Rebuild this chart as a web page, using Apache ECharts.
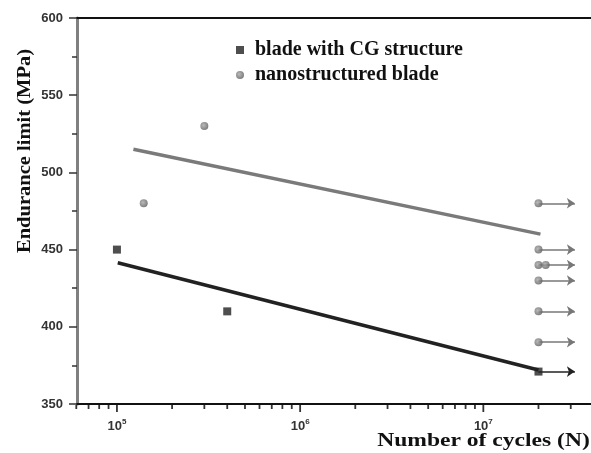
<!DOCTYPE html>
<html><head><meta charset="utf-8">
<script src="https://cdn.jsdelivr.net/npm/echarts@6/dist/echarts.min.js"></script>
<style>html,body{margin:0;padding:0;background:#fff}#c{width:591px;height:453px}</style>
</head><body><div id="c"></div>
<script>
// ---- data ----
const cgX = [1e5, 4e5, 2e7];
const cgY = [450, 410, 371];
const nanoX = [1.4e5, 3e5, 2e7, 2e7, 2e7, 2.19e7, 2e7, 2e7, 2e7];
const nanoY = [480, 530, 480, 450, 440, 440, 430, 410, 390];
const cgFitX = [1.01e5, 2e7];
const cgFitY = [441.5, 372];
const nanoFitX = [1.23e5, 2.05e7];
const nanoFitY = [515, 460];
const runoutStartX = 2e7;
const runoutEndX = 3.16e7;
const nanoRunoutY = [480, 450, 440, 430, 410, 390];
const cgRunoutY = [371];
const xMajorTicks = [1e5, 1e6, 1e7];
const xMajorLabels = ['5', '6', '7'];
const xMinorTicks = [6e4, 7e4, 8e4, 9e4, 2e5, 3e5, 4e5, 5e5, 6e5, 7e5, 8e5, 9e5,
  2e6, 3e6, 4e6, 5e6, 6e6, 7e6, 8e6, 9e6, 2e7, 3e7];
const yTicks = [350, 400, 450, 500, 550, 600];

const chart = echarts.init(document.getElementById('c'));
const serif = "'Liberation Serif', 'Times New Roman', serif";
const sans = "'Liberation Sans', Arial, sans-serif";
const sphere = {type: 'radial', x: 0.4, y: 0.4, r: 0.6,
  colorStops: [{offset: 0, color: '#a8a8a8'}, {offset: 1, color: '#5f5f5f'}]};

const tickData = xMajorTicks.map((v, i) => [v, 350, 1, xMajorLabels[i]])
  .concat(xMinorTicks.map(v => [v, 350, 0, '']));

chart.setOption({
  animation: false,
  grid: {left: 77, top: 18, right: 0, bottom: 49, containLabel: false},
  legend: {
    left: 236, top: 40, padding: 0, orient: 'vertical', itemGap: 5,
    itemWidth: 8, itemHeight: 8,
    textStyle: {fontFamily: serif, fontWeight: 'bold', fontSize: 20, color: '#111', padding: [0, 0, 0, 6]},
    data: [{name: 'blade with CG structure', icon: 'rect'}, {name: 'nanostructured blade', icon: 'circle'}]
  },
  xAxis: [{
    type: 'log', logBase: 10, min: 60534, max: 3.87e7,
    axisLine: {lineStyle: {color: '#111', width: 2}},
    axisTick: {show: false}, axisLabel: {show: false}, splitLine: {show: false}
  }, {
    type: 'log', position: 'top', min: 60534, max: 3.87e7,
    axisLine: {show: true, lineStyle: {color: '#111', width: 2}},
    axisTick: {show: false}, axisLabel: {show: false}, splitLine: {show: false}
  }],
  yAxis: {
    type: 'value', min: 350, max: 600, interval: 50,
    axisLine: {show: true, lineStyle: {color: '#808080', width: 3}},
    axisTick: {show: true, length: 8, lineStyle: {color: '#333', width: 1.5}},
    minorTick: {show: true, splitNumber: 2, length: 5, lineStyle: {color: '#333', width: 1.5}},
    axisLabel: {margin: 14, fontFamily: sans, fontWeight: 'bold', fontSize: 13, color: '#333',
      formatter: v => yTicks.includes(v) ? String(v) : ''},
    splitLine: {show: false}
  },
  graphic: [
    {type: 'text', x: 25, y: 151, rotation: Math.PI / 2, scaleX: 1.08,
      style: {text: 'Endurance limit (MPa)', fontFamily: serif, fontWeight: 'bold', fontSize: 19,
        fill: '#111', align: 'center', verticalAlign: 'middle'}},
    {type: 'text', x: 483.5, y: 441, scaleX: 1.24,
      style: {text: 'Number of cycles (N)', fontFamily: serif, fontWeight: 'bold', fontSize: 19,
        fill: '#111', align: 'center', verticalAlign: 'middle'}}
  ],
  series: [
    {name: 'cgfit', type: 'line', data: cgFitX.map((x, i) => [x, cgFitY[i]]), symbol: 'none',
      lineStyle: {color: '#222', width: 3.5}, z: 2},
    {name: 'nanofit', type: 'line', data: nanoFitX.map((x, i) => [x, nanoFitY[i]]), symbol: 'none',
      lineStyle: {color: '#7a7a7a', width: 3.5}, z: 2},
    {name: 'nanoarrows', type: 'lines', coordinateSystem: 'cartesian2d', symbol: ['none', 'arrow'],
      symbolSize: 8, lineStyle: {color: '#777', width: 1.5, opacity: 1},
      data: nanoRunoutY.map(y => ({coords: [[runoutStartX, y], [runoutEndX, y]]})), z: 3},
    {name: 'cgarrows', type: 'lines', coordinateSystem: 'cartesian2d', symbol: ['none', 'arrow'],
      symbolSize: 8, lineStyle: {color: '#222', width: 1.5, opacity: 1},
      data: cgRunoutY.map(y => ({coords: [[runoutStartX, y], [runoutEndX, y]]})), z: 3},
    {name: 'blade with CG structure', type: 'scatter', symbol: 'rect', symbolSize: 8,
      itemStyle: {color: '#222'}, data: cgX.map((x, i) => [x, cgY[i]]), z: 4},
    {name: 'nanostructured blade', type: 'scatter', symbol: 'circle', symbolSize: 8,
      itemStyle: {color: sphere}, data: nanoX.map((x, i) => [x, nanoY[i]]), z: 4},
    {name: 'xticks', type: 'custom', coordinateSystem: 'cartesian2d', clip: false, silent: true,
      data: tickData, z: 5,
      renderItem: (params, api) => {
        const p = api.coord([api.value(0), api.value(1)]);
        const major = api.value(2) === 1;
        const children = [{type: 'line', shape: {x1: p[0], y1: p[1] + 1, x2: p[0], y2: p[1] + (major ? 8 : 5)},
          style: {stroke: '#333', lineWidth: 1.8}}];
        if (major) {
          children.push({type: 'text', x: p[0], y: p[1] + 22,
            style: {text: '{b|10}{s|' + tickData[params.dataIndex][3] + '}', align: 'center', verticalAlign: 'middle',
              rich: {b: {fontFamily: sans, fontWeight: 'bold', fontSize: 13, fill: '#333'},
                s: {fontFamily: sans, fontWeight: 'bold', fontSize: 8, fill: '#333', padding: [0, 0, 8, 0]}}}});
        }
        return {type: 'group', children};
      }}
  ]
});
</script></body></html>
